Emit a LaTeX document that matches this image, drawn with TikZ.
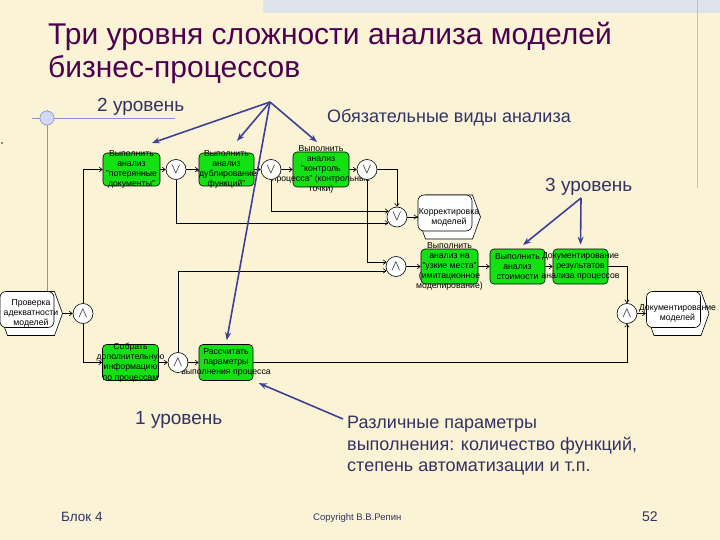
\documentclass[tikz,border=0pt]{standalone}
\usepackage{fontspec}
\setmainfont{Liberation Sans}
\usetikzlibrary{arrows.meta,calc}
\definecolor{bg}{RGB}{251,243,214}
\definecolor{strip}{RGB}{222,228,236}
\definecolor{ttl}{RGB}{75,0,80}
\definecolor{lbl}{RGB}{50,50,100}
\definecolor{annot}{RGB}{64,64,150}
\definecolor{gfill}{RGB}{20,225,20}
\definecolor{decor}{RGB}{130,150,215}
\newcommand\evt[4]{%
  \begin{scope}[shift={(#2,#3)}]
    \draw[fill=white,line width=0.6pt] (-23.5,-22) -- (23.5,-22) -- (31.5,0) -- (23.5,22) -- (-23.5,22) -- (-31.5,0) -- cycle;
    \draw[fill=white,line width=0.6pt,rounded corners=6] (-31,-22) rectangle (23,14);
  \end{scope}
  \node[evbox,label={[ntext]center:{#4}}] (#1) at (#2,#3) {};}
\begin{document}
\begin{tikzpicture}[x=1pt,y=-1pt,
  gbox/.style={draw,fill=gfill,rounded corners=4,inner sep=0,line width=0.6pt},
  evbox/.style={draw=none,inner sep=0,minimum width=63,minimum height=44},
  ntext/.style={align=center,inner sep=0,font=\fontsize{8.7}{10.2}\selectfont},
  gate/.style={draw,circle,fill=white,minimum size=20,inner sep=0,line width=0.6pt,font=\Large},
  conn/.style={draw,line width=0.6pt,-{Straight Barb[length=3pt,width=4.5pt]}},
  annot/.style={draw=annot,line width=1.6pt,-{Stealth[length=8pt,width=6pt]}},
  title/.style={text=ttl,inner sep=0,font=\fontsize{30}{34}\selectfont},
  lbltext/.style={text=lbl,inner sep=0,anchor=base west},
  foot/.style={text=lbl,inner sep=0,anchor=base west}]
\useasboundingbox (0,0) rectangle (720,540);
\fill[bg] (0,0) rectangle (720,540);
\fill[strip] (263,0) rectangle (720,13);
\draw[decor!60,line width=0.8pt] (697,0) -- (697,188);
% left decoration
\draw[decor,line width=0.8pt] (32,118) -- (175,118);
\draw[decor,line width=0.8pt] (47,110) -- (47,292);
\fill[decor!35] (47,118) circle (7);
\draw[decor,line width=0.6pt] (47,118) circle (7);
\fill[black!60] (2,143) circle (1.2);
% titles
\node[title,anchor=base west] (t1) at (48,45) {Три уровня сложности анализа моделей};
\node[title,anchor=base west] (t2) at (48,78) {бизнес-процессов};
\node[lbltext,font=\fontsize{19}{22}\selectfont] (l2) at (97,112) {2 уровень};
\node[lbltext,font=\fontsize{18}{22}\selectfont] (lob) at (327,123) {Обязательные виды анализа};
\node[lbltext,font=\fontsize{19}{22}\selectfont] (l3) at (545,192) {3 уровень};
\node[lbltext,font=\fontsize{19}{22}\selectfont] (l1) at (135,424) {1 уровень};
\node[lbltext,align=left,font=\fontsize{18}{21.5}\selectfont,anchor=north west] (lp) at (347,416) {Различные параметры\\выполнения: количество функций,\\степень автоматизации и т.п.};
\node[foot,font=\fontsize{13.5}{16}\selectfont] (f1) at (61,521) {Блок 4};
\node[foot,font=\fontsize{9.5}{11}\selectfont] (f2) at (313,520) {Copyright В.В.Репин};
\node[foot,font=\fontsize{14}{16}\selectfont] (f3) at (642,521) {52};
% green boxes
\node[gbox,minimum width=57,minimum height=33,label={[ntext]center:{Выполнить\\анализ\\"потерянные\\документы"}}] (A1) at (131.5,169.5) {};
\node[gbox,minimum width=55,minimum height=33,label={[ntext]center:{Выполнить\\анализ\\"дублирование\\функций"}}] (A2) at (226.5,169.5) {};
\node[gbox,minimum width=56,minimum height=35,label={[ntext]center:{Выполнить\\анализ\\"контроль\\процесса" (контрольные\\точки)}}] (A3) at (321,169.5) {};
\node[gbox,minimum width=57,minimum height=35,label={[ntext]center:{Выполнить\\анализ на\\"узкие места"\\(имитационное\\моделирование)}}] (A4) at (449.5,266.5) {};
\node[gbox,minimum width=55,minimum height=35,label={[ntext]center:{Выполнить\\анализ\\стоимости}}] (A5) at (517.5,266.5) {};
\node[gbox,minimum width=55,minimum height=35,label={[ntext]center:{Документирование\\результатов\\анализа процессов}}] (A6) at (580.5,266.5) {};
\node[gbox,minimum width=56,minimum height=36,label={[ntext]center:{Собрать\\дополнительную\\информацию\\по процессам}}] (A7) at (130.5,362.5) {};
\node[gbox,minimum width=54,minimum height=36,label={[ntext]center:{Рассчитать\\параметры\\выполнения процесса}}] (A8) at (226,362.5) {};
% events
\evt{E1}{449}{217}{Корректировка\\моделей}
\evt{E2}{677.5}{313.5}{Документирование\\моделей}
\evt{E3}{31}{313.5}{Проверка\\адекватности\\моделей}
% gates
\node[gate] (X1) at (176,169.5) {$\vee$};
\node[gate] (X2) at (271,169.5) {$\vee$};
\node[gate] (X3) at (367,169.5) {$\vee$};
\node[gate] (X4) at (397,217) {$\vee$};
\node[gate] (X5) at (396,266.5) {$\wedge$};
\node[gate] (X6) at (627,313.5) {$\wedge$};
\node[gate] (X7) at (83,313.5) {$\wedge$};
\node[gate] (X8) at (178,362.5) {$\wedge$};
% connectors
\draw[conn] (E3) -- (X7);
\draw[conn] (X7.north) |- (A1.west);
\draw[conn] (X7.south) |- (A7.west);
\draw[conn] (A1) -- (X1);
\draw[conn] (X1) -- (A2);
\draw[conn] (A2) -- (X2);
\draw[conn] (X2) -- (A3);
\draw[conn] (A3) -- (X3);
\draw[conn] (X3.east) -| (X4.north);
\draw[conn] (X2.south) |- (X4.145);
\draw[conn] (X1.south) |- (X4.215);
\draw[conn] (X3.south) |- (X5.155);
\draw[conn] (X8.north) |- (X5.205);
\draw[conn] (X4) -- (E1);
\draw[conn] (X5) -- (A4);
\draw[conn] (A4) -- (A5);
\draw[conn] (A5) -- (A6);
\draw[conn] (A6.east) -| (X6.north);
\draw[conn] (A8.east) -| (X6.south);
\draw[conn] (X6) -- (E2);
\draw[conn] (A7) -- (X8);
\draw[conn] (X8) -- (A8);
% annotation arrows
\coordinate (ap1) at (270,102);
\coordinate (tA1) at (152,143);
\coordinate (tA2) at (237,141);
\coordinate (tA3) at (317,142);
\coordinate (ap3) at (581,198);
\coordinate (tA5) at (523,245);
\coordinate (apP) at (343,419);
\draw[annot] (ap1) -- (tA1);
\draw[annot] (ap1) -- (tA2);
\draw[annot] (ap1) -- (tA3);
\draw[annot,shorten >=4pt] (ap1) -- (A8.north);
\draw[annot] (ap3) -- (tA5);
\draw[annot,shorten >=4pt] (ap3) -- (A6.north);
\draw[annot,shorten >=6pt] (apP) -- (A8.south east);
\end{tikzpicture}
\end{document}
